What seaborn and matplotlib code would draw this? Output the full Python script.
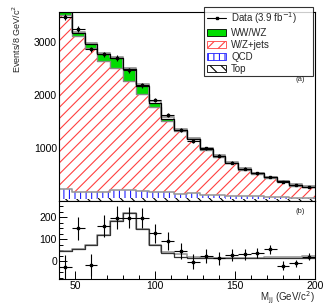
import numpy as np
import pandas as pd
import matplotlib.pyplot as plt
import seaborn as sns
from matplotlib.patches import Patch
from matplotlib.lines import Line2D
from matplotlib.ticker import MultipleLocator

# M_jj binning, 8 GeV/c^2 bins from 40 to 200
edges = np.arange(40, 201, 8)
centers = edges[:-1] + 4

# main panel (events per bin)
data_counts = [3478, 3240, 2862, 2768, 2704, 2466, 2183, 1906, 1617, 1340,
               1132, 994, 855, 723, 610, 522, 460, 365, 302, 270]
data_err = [59, 57, 53, 53, 52, 50, 47, 44, 40, 37,
            34, 32, 29, 27, 25, 23, 21, 19, 17, 16]
top_quark = [35, 40, 45, 50, 55, 60, 65, 65, 65, 60,
             60, 55, 50, 45, 40, 35, 35, 30, 30, 30]
qcd = [190, 125, 130, 115, 155, 150, 120, 105, 105, 75,
       85, 65, 70, 55, 54, 59, 34, 39, 33, 33]
wz_jets = [3290, 2944, 2709, 2486, 2300, 2058, 1840, 1612, 1347, 1185,
           1016, 843, 717, 611, 492, 416, 366, 291, 227, 195]
ww_wz = [45, 55, 73, 117, 182, 217, 145, 73, 36, 20,
         14, 12, 12, 12, 12, 12, 12, 12, 12, 12]
total_alt = [3585, 3195, 2990, 2800, 2720, 2510, 2200, 1890, 1585, 1365,
             1195, 995, 870, 740, 615, 535, 460, 385, 315, 282]

# lower panel: data minus background
sub_data = [-26, 148, -18, 159, 197, 197, 194, 126, 91, 47,
            -3, 23, 12, 27, 32, 35, 53, -21, -11, 20]
sub_err = [55, 53, 52, 51, 51, 49, 46, 43, 40, 37,
           34, 31, 29, 27, 25, 23, 21, 19, 17, 16]
sub_signal = ww_wz
sub_alt = [45, 55, 73, 117, 182, 217, 145, 73, 40, 30,
           20, 15, 15, 14, 15, 16, 17, 18, 20, 24]

sns.set_theme(style="ticks")
plt.rcParams['font.family'] = ['Liberation Sans', 'DejaVu Sans']
plt.rcParams['hatch.linewidth'] = 0.8
plt.rcParams['axes.edgecolor'] = 'black'
plt.rcParams['axes.linewidth'] = 0.8
plt.rcParams['xtick.color'] = 'black'
plt.rcParams['ytick.color'] = 'black'

fig = plt.figure(figsize=(3.32, 3.05), dpi=100)
ax = fig.add_axes([0.178, 0.341, 0.771, 0.620])
axr = fig.add_axes([0.178, 0.085, 0.771, 0.256])

c_top = np.array(top_quark)
c_qcd = c_top + np.array(qcd)
c_wj = c_qcd + np.array(wz_jets)
c_all = c_wj + np.array(ww_wz)


def step(axis, vals, **kw):
    df = pd.DataFrame({'mjj': centers, 'w': np.asarray(vals, dtype=float)})
    sns.histplot(data=df, x='mjj', weights='w', binwidth=8, binrange=(40, 200),
                 element="step", ax=axis, **kw)


green = '#00dd00'
step(ax, c_all, fill=True, facecolor=green, edgecolor='none', linewidth=0, alpha=1)
step(ax, c_wj, fill=True, facecolor='white', edgecolor='#ff4040', hatch='///',
     linewidth=0, alpha=1)
step(ax, c_qcd, fill=True, facecolor='white', edgecolor='#2020ff', hatch='|||',
     linewidth=0, alpha=1)
step(ax, c_top, fill=True, facecolor='white', edgecolor='black', hatch='\\\\\\',
     linewidth=0, alpha=1)
step(ax, total_alt, fill=False, color='#999999', linewidth=1.3)
step(ax, c_wj, fill=False, color='#888888', linewidth=1.0)
step(ax, c_qcd, fill=False, color='#999999', linewidth=1.2)
step(ax, c_all, fill=False, color='black', linewidth=0.9)
ax.errorbar(centers, data_counts, yerr=data_err, xerr=4, fmt='s', ms=2,
            color='black', elinewidth=0.8, capsize=0)

ax.set_xlim(40, 200)
ax.set_ylim(0, 3570)
ax.set_yticks([1000, 2000, 3000])
ax.yaxis.set_minor_locator(MultipleLocator(200))
ax.xaxis.set_major_locator(MultipleLocator(50))
ax.xaxis.set_minor_locator(MultipleLocator(10))
ax.tick_params(labelbottom=False)
ax.set_xlabel('')
ax.set_ylabel('')
ax.text(0.94, 0.645, '(a)', transform=ax.transAxes, fontsize=5.5,
        ha='center', va='center')

step(axr, sub_alt, fill=False, color='#999999', linewidth=1.2)
step(axr, sub_signal, fill=False, color='#333333', linewidth=0.9)
axr.errorbar(centers, sub_data, yerr=sub_err, xerr=4, fmt='s', ms=2,
             color='black', elinewidth=0.8, capsize=0)
axr.set_xlim(40, 200)
axr.set_ylim(-82, 273)
axr.set_yticks([0, 100, 200])
axr.yaxis.set_minor_locator(MultipleLocator(25))
axr.xaxis.set_major_locator(MultipleLocator(50))
axr.xaxis.set_minor_locator(MultipleLocator(10))
axr.set_xlabel('')
axr.set_ylabel('')
axr.text(0.94, 0.86, '(b)', transform=axr.transAxes, fontsize=5.5,
         ha='center', va='center')

for a in (ax, axr):
    a.tick_params(which='both', direction='in', top=False, right=False,
                  labelsize=7.5, width=0.7, pad=1.5)
    a.tick_params(which='major', length=5.5)
    a.tick_params(which='minor', length=2.8)

handles = [
    Line2D([0], [0], color='black', marker='s', ms=2, lw=0.8),
    Patch(facecolor=green, edgecolor='black', linewidth=0.6),
    Patch(facecolor='white', edgecolor='#ff4040', hatch='///', linewidth=0.6),
    Patch(facecolor='white', edgecolor='#2020ff', hatch='|||', linewidth=0.6),
    Patch(facecolor='white', edgecolor='black', hatch='\\\\\\', linewidth=0.6),
]
labels = ['Data (3.9 fb$^{-1}$)', 'WW/WZ', 'W/Z+jets', 'QCD', 'Top']
leg = fig.legend(handles, labels, loc='upper left', mode='expand',
                 bbox_to_anchor=(204 / 332, 0.77, 109 / 332, 0.207),
                 frameon=True, fancybox=False,
                 edgecolor='black', fontsize=7, handlelength=2.0,
                 handleheight=0.75, labelspacing=0.2, borderpad=0.3,
                 handletextpad=0.5, borderaxespad=0)
leg.get_frame().set_linewidth(0.8)

fig.text(17 / 332, 1 - 5 / 305, 'Events/8 GeV/c$^2$', rotation=90,
         ha='center', va='top', fontsize=6.5)
fig.text(315 / 332, 1 - 298 / 305, 'M$_{\\rm jj}$ (GeV/c$^2$)',
         ha='right', va='center', fontsize=7)

fig.savefig('out.png', dpi=100)
